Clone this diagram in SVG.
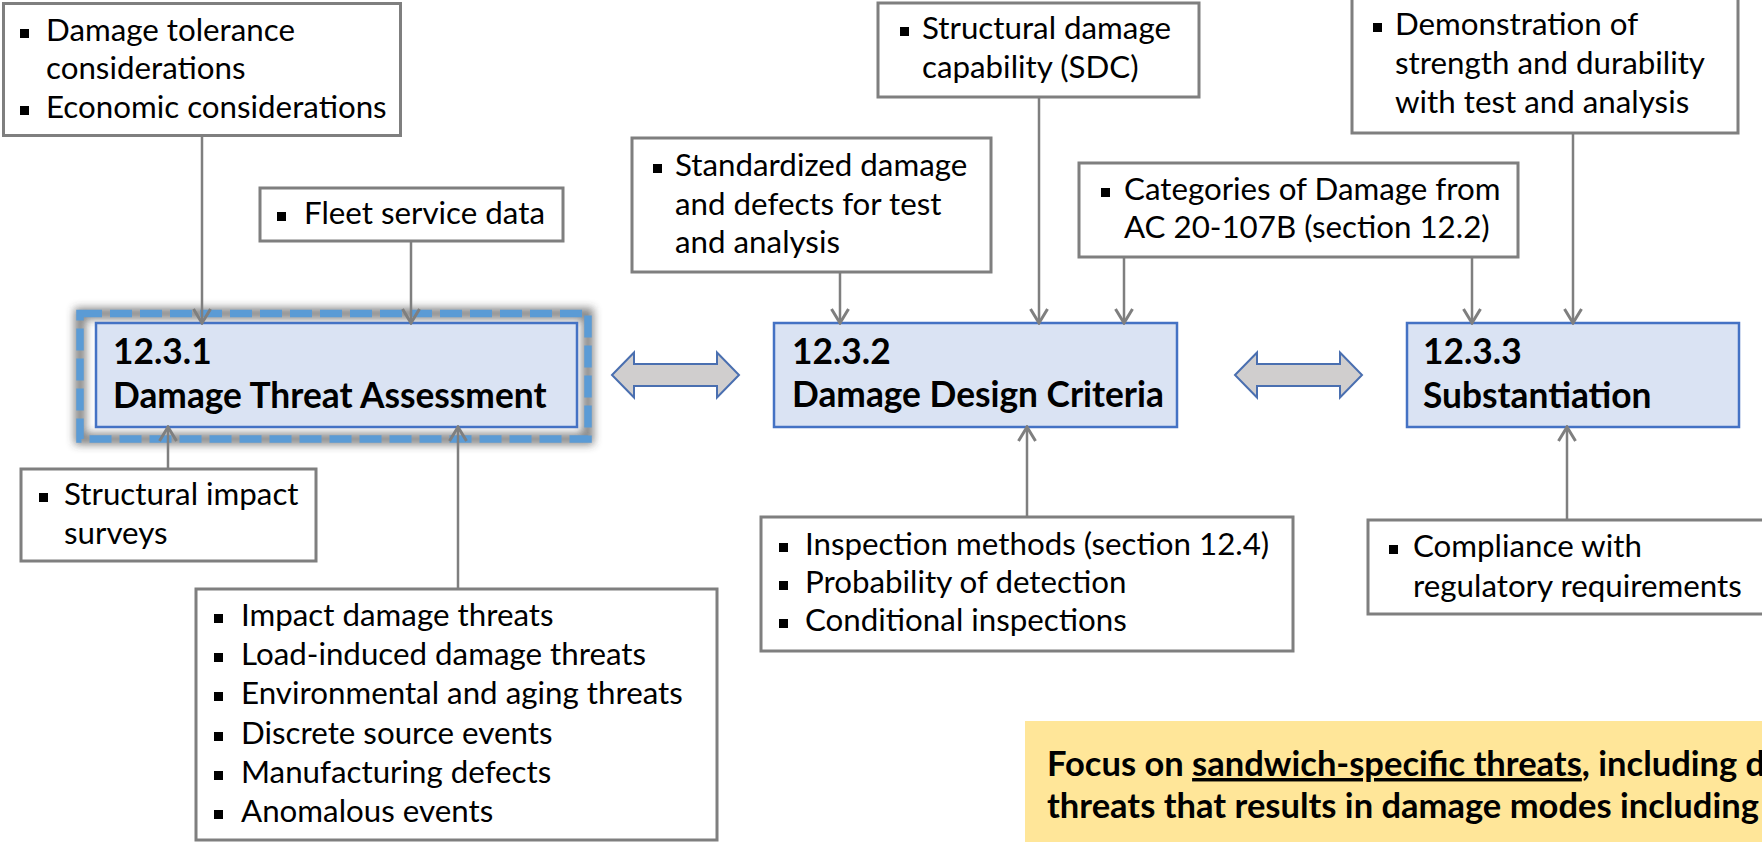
<svg xmlns="http://www.w3.org/2000/svg" width="1762" height="842" viewBox="0 0 1762 842">
<style>
.box{fill:#fff;stroke:#7f7f7f;stroke-width:3}
.tbox{fill:#dae3f3;stroke:#4472c4;stroke-width:2.5}
.t{font-family:Lato,"Open Sans",sans-serif;font-size:31.3px;fill:#000}
.h{font-family:Lato,"Open Sans",sans-serif;font-size:35.3px;font-weight:bold;fill:#000}
.y{font-family:Lato,"Open Sans",sans-serif;font-size:34.5px;font-weight:bold;fill:#000}
.b{fill:#000}
.con{stroke:#7f7f7f;stroke-width:2.5;fill:none}
.dbl{fill:#d0cece;stroke:#4a6fb0;stroke-width:2}
</style>
<defs>
<marker id="ah" viewBox="-17 -11 19 22" refX="0" refY="0" markerWidth="19" markerHeight="22" markerUnits="userSpaceOnUse" orient="auto">
<path d="M-14,-8.5 L0,0 L-14,8.5" fill="none" stroke="#7f7f7f" stroke-width="3"/>
</marker>
<filter id="glow" x="-10%" y="-30%" width="120%" height="160%">
<feGaussianBlur stdDeviation="4"/>
</filter>
</defs>

<g id="yellow-note">
<rect x="1025" y="721" width="745" height="130" fill="#ffe699"/>
<text class="y" x="1047" y="776">Focus on <tspan text-decoration="underline">sandwich-specific threats</tspan>, including d</text>
<text class="y" x="1047" y="818">threats that results in damage modes including</text>
</g>

<g id="n1231">
<rect x="80" y="313.5" width="508" height="125.5" fill="none" stroke="#333" stroke-width="11" opacity="0.6" filter="url(#glow)"/>
<rect x="80" y="313.5" width="508" height="125.5" fill="none" stroke="#5b9bd5" stroke-width="7.5" stroke-dasharray="22 8"/>
<rect class="tbox" x="96" y="323" width="481" height="104"/>
<text class="h" x="113" y="364">12.3.1</text>
<text class="h" x="113" y="408">Damage Threat Assessment</text>
</g>

<g id="n1232">
<rect class="tbox" x="774" y="323" width="403" height="104"/>
<text class="h" x="792" y="364">12.3.2</text>
<text class="h" x="792" y="407">Damage Design Criteria</text>
</g>

<g id="n1233">
<rect class="tbox" x="1407" y="323" width="332" height="104"/>
<text class="h" x="1423" y="364">12.3.3</text>
<text class="h" x="1423" y="408">Substantiation</text>
</g>

<g id="boxA">
<rect class="box" x="3.5" y="3.5" width="397" height="132"/>
<rect class="b" x="20" y="29" width="9" height="9"/>
<text class="t" x="46" y="41">Damage tolerance</text>
<text class="t" x="46" y="79">considerations</text>
<rect class="b" x="20" y="106" width="9" height="9"/>
<text class="t" x="46" y="118">Economic considerations</text>
</g>

<g id="boxB">
<rect class="box" x="260" y="188" width="303" height="53"/>
<rect class="b" x="277" y="212" width="9" height="9"/>
<text class="t" x="304" y="224">Fleet service data</text>
</g>

<g id="boxC">
<rect class="box" x="21" y="469" width="295" height="92"/>
<rect class="b" x="39" y="493" width="9" height="9"/>
<text class="t" x="64" y="505">Structural impact</text>
<text class="t" x="64" y="544">surveys</text>
</g>

<g id="boxD">
<rect class="box" x="196" y="589" width="521" height="251"/>
<rect class="b" x="214" y="614" width="9" height="9"/>
<text class="t" x="241" y="626">Impact damage threats</text>
<rect class="b" x="214" y="653" width="9" height="9"/>
<text class="t" x="241" y="665">Load-induced damage threats</text>
<rect class="b" x="214" y="692" width="9" height="9"/>
<text class="t" x="241" y="704">Environmental and aging threats</text>
<rect class="b" x="214" y="732" width="9" height="9"/>
<text class="t" x="241" y="744">Discrete source events</text>
<rect class="b" x="214" y="771" width="9" height="9"/>
<text class="t" x="241" y="783">Manufacturing defects</text>
<rect class="b" x="214" y="810" width="9" height="9"/>
<text class="t" x="241" y="822">Anomalous events</text>
</g>

<g id="boxE">
<rect class="box" x="632" y="138" width="359" height="134"/>
<rect class="b" x="653" y="164" width="9" height="9"/>
<text class="t" x="675" y="176">Standardized damage</text>
<text class="t" x="675" y="215">and defects for test</text>
<text class="t" x="675" y="253">and analysis</text>
</g>

<g id="boxF">
<rect class="box" x="878" y="3" width="321" height="94"/>
<rect class="b" x="900" y="27" width="9" height="9"/>
<text class="t" x="922" y="39">Structural damage</text>
<text class="t" x="922" y="78">capability (SDC)</text>
</g>

<g id="boxG">
<rect class="box" x="1079" y="163" width="439" height="94"/>
<rect class="b" x="1101" y="188" width="9" height="9"/>
<text class="t" x="1124" y="200">Categories of Damage from</text>
<text class="t" x="1124" y="238">AC 20-107B (section 12.2)</text>
</g>

<g id="boxH">
<rect class="box" x="1352" y="-5" width="386" height="138"/>
<rect class="b" x="1373" y="23" width="9" height="9"/>
<text class="t" x="1395" y="35">Demonstration of</text>
<text class="t" x="1395" y="74">strength and durability</text>
<text class="t" x="1395" y="113">with test and analysis</text>
</g>

<g id="boxJ">
<rect class="box" x="761" y="517" width="532" height="134"/>
<rect class="b" x="779" y="543" width="9" height="9"/>
<text class="t" x="805" y="555">Inspection methods (section 12.4)</text>
<rect class="b" x="779" y="581" width="9" height="9"/>
<text class="t" x="805" y="593">Probability of detection</text>
<rect class="b" x="779" y="619" width="9" height="9"/>
<text class="t" x="805" y="631">Conditional inspections</text>
</g>

<g id="boxI">
<rect class="box" x="1368" y="520" width="400" height="94"/>
<rect class="b" x="1389" y="545" width="9" height="9"/>
<text class="t" x="1413" y="557">Compliance with</text>
<text class="t" x="1413" y="597">regulatory requirements</text>
</g>

<g id="connectors">
<line class="con" x1="202" y1="137" x2="202" y2="323" marker-end="url(#ah)"/>
<line class="con" x1="411" y1="241" x2="411" y2="323" marker-end="url(#ah)"/>
<line class="con" x1="168" y1="469" x2="168" y2="427" marker-end="url(#ah)"/>
<line class="con" x1="458" y1="589" x2="458" y2="427" marker-end="url(#ah)"/>
<line class="con" x1="840" y1="272" x2="840" y2="323" marker-end="url(#ah)"/>
<line class="con" x1="1039" y1="97" x2="1039" y2="323" marker-end="url(#ah)"/>
<line class="con" x1="1124" y1="257" x2="1124" y2="323" marker-end="url(#ah)"/>
<line class="con" x1="1472" y1="257" x2="1472" y2="323" marker-end="url(#ah)"/>
<line class="con" x1="1573" y1="133" x2="1573" y2="323" marker-end="url(#ah)"/>
<line class="con" x1="1027" y1="517" x2="1027" y2="427" marker-end="url(#ah)"/>
<line class="con" x1="1567" y1="520" x2="1567" y2="427" marker-end="url(#ah)"/>
<polygon class="dbl" points="612,375 634,352.5 634,364 717,364 717,352.5 739,375 717,397.5 717,386 634,386 634,397.5"/>
<polygon class="dbl" points="1235,375 1257,352.5 1257,364 1340,364 1340,352.5 1362,375 1340,397.5 1340,386 1257,386 1257,397.5"/>
</g>
</svg>
